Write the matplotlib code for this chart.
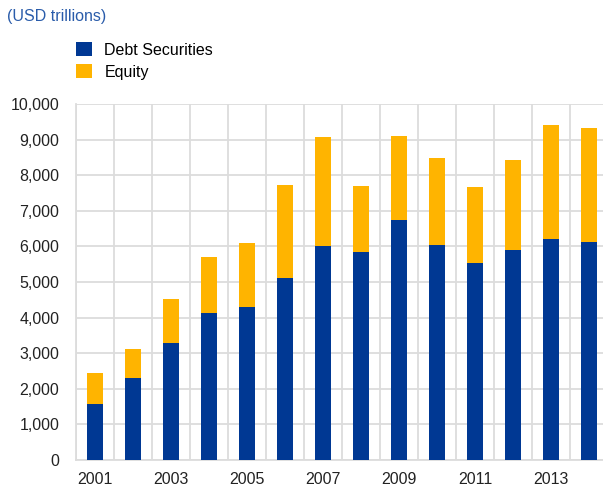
import matplotlib.pyplot as plt
import numpy as np

plt.rcParams['font.family'] = ['Liberation Sans', 'DejaVu Sans']

years = [2001, 2002, 2003, 2004, 2005, 2006, 2007, 2008, 2009, 2010, 2011, 2012, 2013, 2014]
debt = [1580, 2300, 3300, 4120, 4300, 5120, 6020, 5850, 6730, 6050, 5540, 5900, 6220, 6120]
total = [2430, 3130, 4520, 5700, 6100, 7720, 9070, 7710, 9100, 8480, 7670, 8430, 9400, 9330]
equity = [t - d for t, d in zip(total, debt)]

blue = '#003893'
orange = '#ffb400'

fig = plt.figure(figsize=(6.03, 4.86), dpi=100)
ax = fig.add_axes([76 / 603, 26 / 486, 532 / 603, 356 / 486])

x = np.arange(len(years))
b1 = ax.bar(x, debt, width=0.4, color=blue, label='Debt Securities', zorder=3)
b2 = ax.bar(x, equity, bottom=debt, width=0.4, color=orange, label='Equity', zorder=3)

ax.set_xlim(-0.5, len(years) - 0.5)
ax.set_ylim(0, 10000)
ax.set_yticks(np.arange(0, 10001, 1000))
ax.set_yticklabels([f'{v:,}' for v in range(0, 10001, 1000)])
ax.set_xticks(x[::2])
ax.set_xticklabels([str(y) for y in years[::2]])
ax.set_xticks(np.arange(-0.5, len(years), 1), minor=True)

ax.grid(axis='y', color='#dcdcdc', linewidth=1.3, zorder=0)
ax.grid(axis='x', which='minor', color='#dcdcdc', linewidth=1.3, zorder=0)
ax.tick_params(axis='both', which='both', length=0, labelsize=11.5, colors='#222222')
ax.tick_params(axis='y', pad=12)
ax.tick_params(axis='x', pad=8.5)
for s in ['top', 'right']:
    ax.spines[s].set_visible(False)
for s in ['left', 'bottom']:
    ax.spines[s].set_color('#dcdcdc')
    ax.spines[s].set_linewidth(1.3)

fig.text(7 / 603, 1 - 17 / 486, '(USD trillions)', color='#2a5caa', fontsize=11.5, va='center')
fig.legend(handles=[b1, b2], loc='upper left', bbox_to_anchor=(70 / 603, 1 - 36 / 486),
           frameon=False, fontsize=11.5, handlelength=0.95, handleheight=0.95,
           handletextpad=0.8, labelspacing=0.4, borderaxespad=0)

fig.savefig('out.png', dpi=100)
